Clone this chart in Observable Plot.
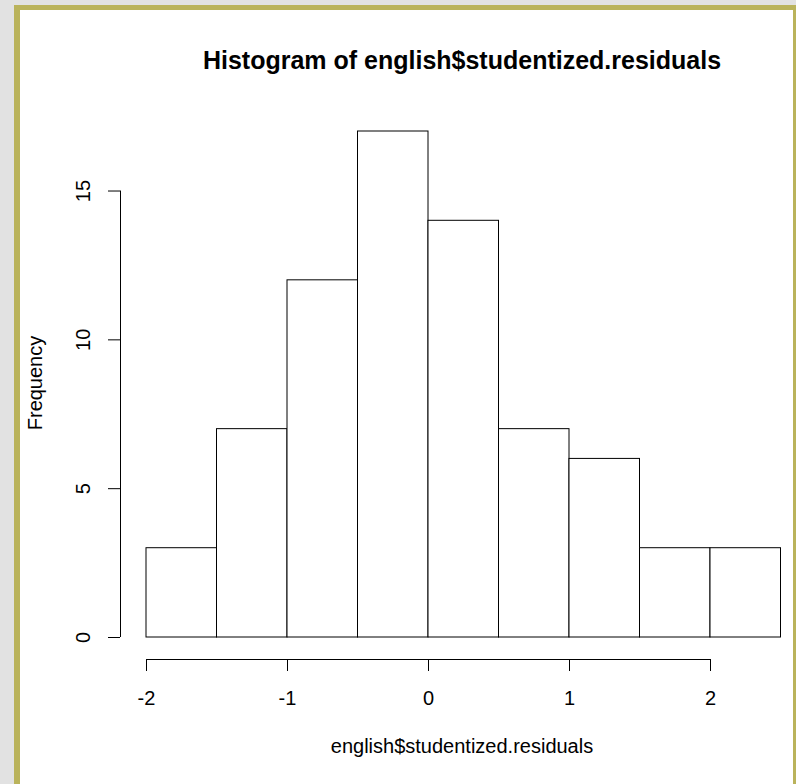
<!DOCTYPE html>
<html><head><meta charset="utf-8">
<script src="https://cdn.jsdelivr.net/npm/d3@7"></script>
<script src="https://cdn.jsdelivr.net/npm/@observablehq/plot@0.6"></script>
<style>
html,body{margin:0;padding:0}
body{background:#e2e2e2;width:796px;height:784px;overflow:hidden;position:relative;font-family:"Liberation Sans",Arial,sans-serif;color:#000}
#frame{position:absolute;left:14px;top:5px;width:773px;height:820px;border-left:6px solid #bab35b;border-top:5px solid #bab35b;border-right:5px solid #bab35b;background:#fff}
#chart{position:absolute;left:0;top:0}
.lbl{position:absolute;white-space:nowrap;line-height:1}
#title{left:462px;top:48px;transform:translateX(-50%);font-weight:bold;font-size:25px}
#xlab{left:462px;top:736px;transform:translateX(-50%);font-size:20px}
#ylab{left:34.5px;top:383px;transform:translate(-50%,-50%) rotate(-90deg);font-size:20px}
</style>
</head><body>
<div id="frame"></div>
<div id="chart"></div>
<div class="lbl" id="title">Histogram of english$studentized.residuals</div>
<div class="lbl" id="xlab">english$studentized.residuals</div>
<div class="lbl" id="ylab">Frequency</div>
<script>
const binStart = [-2, -1.5, -1, -0.5, 0, 0.5, 1, 1.5, 2];
const binEnd = [-1.5, -1, -0.5, 0, 0.5, 1, 1.5, 2, 2.5];
const counts = [3, 7, 12, 17, 14, 7, 6, 3, 3];
const xTicks = [-2, -1, 0, 1, 2];
const yTicks = [0, 5, 10, 15];

const bins = counts.map((c, i) => ({x1: binStart[i], x2: binEnd[i], y: c}));

const chart = Plot.plot({
  width: 796,
  height: 784,
  marginLeft: 146,
  marginRight: 15.5,
  marginTop: 131,
  marginBottom: 147,
  x: {domain: [binStart[0], binEnd[binEnd.length - 1]], label: null},
  y: {domain: [0, d3.max(counts)], label: null},
  style: {background: "transparent", fontFamily: "'Liberation Sans', Arial, sans-serif", fontSize: "20px", color: "#000"},
  marks: [
    Plot.rectY(bins, {x1: "x1", x2: "x2", y: "y", fill: "white", stroke: "black", strokeWidth: 1}),
    Plot.ruleY([0], {x1: () => xTicks[0], x2: () => xTicks[xTicks.length - 1], dy: 22, stroke: "black"}),
    Plot.axisX({ticks: xTicks, tickSize: 12, dy: 22, tickPadding: 19, tickFormat: d => String(d), label: null, fontSize: 20, stroke: "black", fill: "black"}),
    Plot.ruleX([0], {x: () => binStart[0], y1: () => yTicks[0], y2: () => yTicks[yTicks.length - 1], dx: -26, stroke: "black"}),
    Plot.axisY({ticks: yTicks, tickSize: 12, dx: -26, tickFormat: () => "", label: null, stroke: "black"}),
    Plot.text(yTicks, {y: d => d, text: d => String(d), frameAnchor: "left", textAnchor: "middle", lineAnchor: "middle", dx: -62.5, rotate: -90, fontSize: 20, fill: "black"})
  ]
});
document.getElementById("chart").appendChild(chart);
</script>
</body></html>
